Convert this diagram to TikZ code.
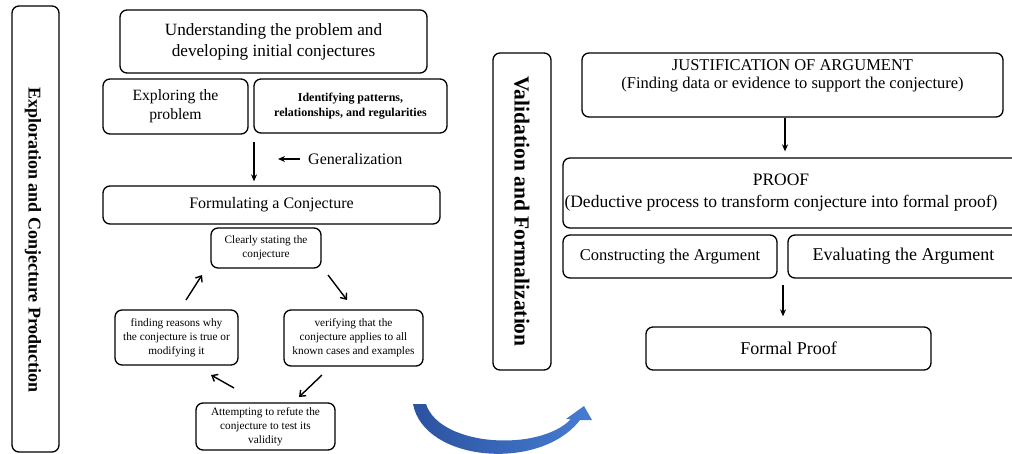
\documentclass[tikz,border=0pt]{standalone}
\usepackage{fontspec}
\setmainfont{Liberation Serif}
\usetikzlibrary{arrows.meta}
\newcommand{\fsz}[1]{\fontsize{#1}{#1}\selectfont}
\begin{document}
\begin{tikzpicture}[x=1pt,y=-1pt,
  box/.style={draw, line width=1.3pt, rounded corners=7pt, align=center, inner sep=0pt},
  txt/.style={align=center, inner sep=0pt},
  darr/.style={-{Stealth[length=7pt,width=6pt]}, line width=1.3pt},
  carr/.style={-{Straight Barb[length=5pt,width=8pt]}, line width=1.4pt}]
\useasboundingbox (0,0) rectangle (1012,454);
\clip (0,0) rectangle (1012,454);

% left column
\node[box, minimum width=47pt, minimum height=446pt] (L) at (35.5,229) {};
\node[txt, rotate=-90, font=\bfseries\fsz{18}] (Lt) at (33,240) {Exploration and Conjecture Production};

\node[box, minimum width=307pt, minimum height=63pt, font=\fontsize{17.2}{21}\selectfont] (U) at (273.5,41.5) {Understanding the problem and\\developing initial conjectures};
\node[box, minimum width=145pt, minimum height=55pt, font=\fontsize{15.7}{19}\selectfont] (E) at (175.5,106.5) {Exploring the\\problem};
\node[box, minimum width=193pt, minimum height=54pt, font=\bfseries\fontsize{12}{15}\selectfont] (I) at (350.5,106) {Identifying patterns,\\relationships, and regularities};
\node[txt, anchor=west, font=\fsz{16}] (G) at (308,159) {Generalization};
\node[box, minimum width=337pt, minimum height=38pt, font=\fsz{16}] (F) at (271.5,205) {Formulating a Conjecture};

\coordinate (g1) at (254,142);
\draw[darr] (g1) -- ([yshift=4pt]g1 |- F.north);
\coordinate (ga) at (278,159);
\draw[darr] ([xshift=-8pt]G.west) -- (ga);

% cycle
\node[box, minimum width=110pt, minimum height=40pt, font=\fontsize{11.3}{14}\selectfont] (C) at (266,248) {Clearly stating the\\conjecture};
\node[box, minimum width=123pt, minimum height=55pt, font=\fontsize{11.3}{14}\selectfont] (R) at (176.5,337.5) {finding reasons why\\the conjecture is true or\\modifying it};
\node[box, minimum width=139pt, minimum height=56pt, font=\fontsize{11.3}{14}\selectfont] (V) at (353.5,338) {verifying that the\\conjecture applies to all\\known cases and examples};
\node[box, minimum width=139pt, minimum height=47pt, font=\fontsize{11.3}{14}\selectfont] (A) at (265.5,426.5) {Attempting to refute the\\conjecture to test its\\validity};

\coordinate (c1s) at (186,300); \coordinate (c1e) at (202,275);
\coordinate (c2s) at (328,275); \coordinate (c2e) at (347,300);
\coordinate (c3s) at (322,375); \coordinate (c3e) at (299,397);
\coordinate (c4s) at (234,388); \coordinate (c4e) at (211,375);
\draw[carr] (c1s) -- (c1e);
\draw[carr] (c2s) -- (c2e);
\draw[carr] (c3s) -- (c3e);
\draw[carr] (c4s) -- (c4e);

% blue curved arrow
\shade[left color={rgb,255:red,44;green,82;blue,160}, right color={rgb,255:red,70;green,125;blue,210}]
  (413,404) .. controls (424,462) and (540,472) .. (580,420) -- (592,420) -- (584,406) -- (566,419) -- (571,419)
  .. controls (540,452) and (440,447) .. (426,404) -- cycle;

% right column
\node[box, minimum width=58pt, minimum height=317pt] (VF) at (522,211.5) {};
\node[txt, rotate=-90, font=\bfseries\fsz{21.5}] (VFt) at (522,211.5) {Validation and Formalization};

\node[box, minimum width=421pt, minimum height=64pt] (J) at (792.5,85) {};
\node[txt, font=\fontsize{16.5}{18}\selectfont] (Jt) at (792.5,76) {JUSTIFICATION OF ARGUMENT\\(Finding data or evidence to support the conjecture)};
\node[box, minimum width=457pt, minimum height=70pt] (P) at (791.5,193) {};
\node[txt, font=\fontsize{17.5}{22}\selectfont] (Pt) at (781,193) {PROOF\\(Deductive process to transform conjecture into formal proof)};
\node[box, minimum width=214pt, minimum height=43pt, font=\fsz{16.5}] (Co) at (670,256.5) {Constructing the Argument};
\node[box, minimum width=232pt, minimum height=43pt] (Ev) at (904,256.5) {};
\node[txt, font=\fsz{18}] (Evt) at (903.5,256.5) {Evaluating the Argument};
\node[box, minimum width=285pt, minimum height=43pt, font=\fsz{18}] (FP) at (788.5,348.5) {Formal Proof};

\coordinate (j1) at (785,118);
\draw[darr] (j1) -- ([yshift=6pt]j1 |- P.north);
\coordinate (f1) at (783,285);
\draw[darr] (f1) -- ([yshift=10pt]f1 |- FP.north);
\end{tikzpicture}
\end{document}
